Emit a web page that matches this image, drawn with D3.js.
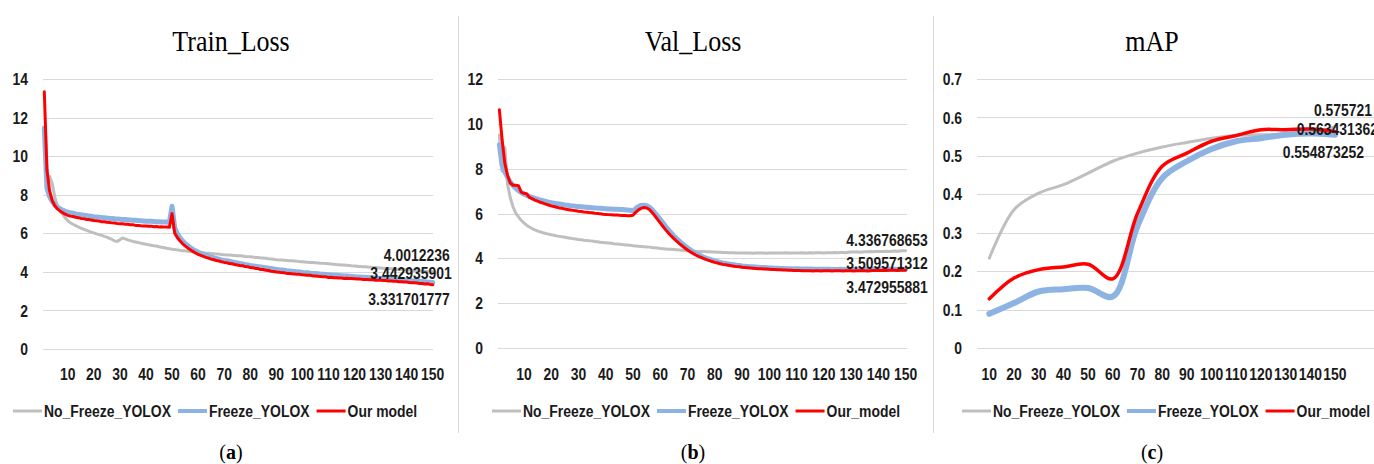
<!DOCTYPE html>
<html>
<head>
<meta charset="utf-8">
<script src="https://cdn.jsdelivr.net/npm/d3@7"></script>
<style>
  html, body { margin: 0; padding: 0; background: #fff; }
  svg { display: block; }
  .lbl { font-family: "Liberation Sans", Arial, sans-serif; font-weight: bold; font-size: 17px; fill: #1a1a1a; }
  .title { font-family: "Liberation Serif", serif; font-size: 26px; fill: #000; }
  .cap { font-family: "Liberation Serif", serif; font-size: 20px; fill: #000; }
</style>
</head>
<body>
<svg id="chart" width="1374" height="464"></svg>
<script>
// ---- data ----
const epochs = d3.range(1, 151);
const lossTicksX = [10, 20, 30, 40, 50, 60, 70, 80, 90, 100, 110, 120, 130, 140, 150];
const trainTicksY = [0, 2, 4, 6, 8, 10, 12, 14];
const valTicksY = [0, 2, 4, 6, 8, 10, 12];
const mapTicksY = [0, 0.1, 0.2, 0.3, 0.4, 0.5, 0.6, 0.7];
const seriesNames = ["No_Freeze_YOLOX", "Freeze_YOLOX", "Our_model"];
const seriesNamesA = ["No_Freeze_YOLOX", "Freeze_YOLOX", "Our model"];

const trainNoFreeze = [
  11.20, 8.40, 8.95, 8.60, 7.90, 7.45, 7.20, 7.00, 6.80, 6.65,
  6.55, 6.47, 6.40, 6.33, 6.27, 6.21, 6.16, 6.11, 6.06, 6.02,
  5.97, 5.93, 5.89, 5.84, 5.80, 5.74, 5.68, 5.60, 5.58, 5.66,
  5.76, 5.71, 5.66, 5.62, 5.58, 5.55, 5.52, 5.49, 5.46, 5.43,
  5.40, 5.38, 5.35, 5.34, 5.30, 5.28, 5.25, 5.22, 5.20, 5.17,
  5.16, 5.14, 5.12, 5.10, 5.09, 5.07, 5.05, 5.04, 5.02, 5.00,
  4.99, 4.99, 4.97, 4.96, 4.95, 4.94, 4.93, 4.92, 4.90, 4.89,
  4.88, 4.87, 4.86, 4.85, 4.84, 4.83, 4.82, 4.80, 4.79, 4.78,
  4.77, 4.75, 4.74, 4.72, 4.72, 4.70, 4.68, 4.67, 4.65, 4.63,
  4.62, 4.61, 4.60, 4.59, 4.58, 4.57, 4.56, 4.55, 4.53, 4.52,
  4.51, 4.50, 4.49, 4.48, 4.47, 4.46, 4.45, 4.44, 4.43, 4.42,
  4.41, 4.40, 4.38, 4.37, 4.36, 4.35, 4.34, 4.33, 4.31, 4.30,
  4.29, 4.28, 4.27, 4.26, 4.25, 4.24, 4.23, 4.22, 4.21, 4.20,
  4.19, 4.18, 4.17, 4.16, 4.15, 4.14, 4.13, 4.12, 4.11, 4.10,
  4.09, 4.08, 4.07, 4.06, 4.05, 4.04, 4.03, 4.02, 4.01, 4.0012
];
const trainFreeze = [
  11.46, 8.35, 7.92, 7.66, 7.48, 7.36, 7.27, 7.20, 7.14, 7.10,
  7.06, 7.04, 7.00, 6.98, 6.96, 6.94, 6.92, 6.90, 6.88, 6.86,
  6.85, 6.83, 6.82, 6.80, 6.79, 6.77, 6.77, 6.75, 6.74, 6.73,
  6.72, 6.71, 6.70, 6.69, 6.68, 6.67, 6.66, 6.65, 6.64, 6.63,
  6.62, 6.62, 6.61, 6.60, 6.60, 6.59, 6.58, 6.58, 6.56, 7.40,
  6.30, 5.98, 5.77, 5.61, 5.48, 5.36, 5.26, 5.17, 5.09, 5.02,
  4.96, 4.91, 4.86, 4.81, 4.77, 4.73, 4.69, 4.66, 4.62, 4.59,
  4.58, 4.55, 4.52, 4.49, 4.46, 4.43, 4.41, 4.38, 4.36, 4.33,
  4.31, 4.29, 4.27, 4.25, 4.23, 4.21, 4.19, 4.17, 4.15, 4.13,
  4.11, 4.10, 4.08, 4.06, 4.05, 4.03, 4.02, 4.00, 3.99, 3.97,
  3.96, 3.95, 3.93, 3.92, 3.91, 3.90, 3.88, 3.87, 3.86, 3.85,
  3.84, 3.83, 3.82, 3.81, 3.80, 3.79, 3.78, 3.77, 3.76, 3.75,
  3.74, 3.73, 3.72, 3.72, 3.71, 3.70, 3.69, 3.68, 3.67, 3.66,
  3.65, 3.64, 3.63, 3.62, 3.61, 3.60, 3.59, 3.58, 3.57, 3.56,
  3.55, 3.54, 3.53, 3.52, 3.51, 3.50, 3.49, 3.47, 3.46, 3.4429
];
const trainOurs = [
  13.34, 9.31, 8.22, 7.71, 7.43, 7.27, 7.16, 7.07, 6.99, 6.93,
  6.89, 6.87, 6.83, 6.81, 6.77, 6.76, 6.72, 6.71, 6.69, 6.66,
  6.65, 6.63, 6.60, 6.60, 6.57, 6.56, 6.54, 6.53, 6.51, 6.50,
  6.50, 6.47, 6.47, 6.44, 6.44, 6.41, 6.41, 6.39, 6.38, 6.38,
  6.36, 6.37, 6.34, 6.35, 6.33, 6.34, 6.32, 6.33, 6.31, 7.02,
  6.02, 5.78, 5.61, 5.47, 5.35, 5.24, 5.15, 5.06, 4.98, 4.91,
  4.85, 4.80, 4.75, 4.71, 4.66, 4.63, 4.59, 4.56, 4.52, 4.49,
  4.47, 4.43, 4.42, 4.38, 4.36, 4.33, 4.32, 4.28, 4.27, 4.22,
  4.21, 4.18, 4.17, 4.12, 4.12, 4.08, 4.07, 4.03, 4.02, 3.99,
  3.98, 3.96, 3.95, 3.92, 3.92, 3.90, 3.89, 3.87, 3.87, 3.85,
  3.84, 3.82, 3.82, 3.79, 3.79, 3.77, 3.76, 3.74, 3.74, 3.71,
  3.72, 3.70, 3.70, 3.68, 3.68, 3.66, 3.67, 3.65, 3.65, 3.64,
  3.63, 3.63, 3.61, 3.61, 3.60, 3.59, 3.59, 3.57, 3.57, 3.56,
  3.55, 3.55, 3.53, 3.53, 3.51, 3.51, 3.49, 3.49, 3.47, 3.47,
  3.45, 3.44, 3.43, 3.42, 3.40, 3.40, 3.37, 3.38, 3.35, 3.3317
];

const valNoFreeze = [
  9.50, 7.90, 8.95, 7.30, 6.70, 6.30, 6.02, 5.85, 5.70, 5.58,
  5.48, 5.40, 5.33, 5.27, 5.22, 5.18, 5.14, 5.11, 5.08, 5.05,
  5.03, 5.00, 4.98, 4.96, 4.94, 4.92, 4.90, 4.88, 4.86, 4.84,
  4.83, 4.81, 4.80, 4.78, 4.77, 4.75, 4.74, 4.72, 4.71, 4.69,
  4.68, 4.67, 4.65, 4.64, 4.63, 4.62, 4.60, 4.59, 4.58, 4.56,
  4.55, 4.54, 4.53, 4.52, 4.51, 4.50, 4.48, 4.47, 4.46, 4.44,
  4.43, 4.42, 4.41, 4.40, 4.39, 4.38, 4.37, 4.36, 4.35, 4.34,
  4.33, 4.32, 4.31, 4.31, 4.30, 4.30, 4.29, 4.29, 4.28, 4.28,
  4.27, 4.27, 4.26, 4.26, 4.25, 4.25, 4.25, 4.24, 4.24, 4.24,
  4.24, 4.24, 4.24, 4.23, 4.24, 4.24, 4.24, 4.24, 4.23, 4.24,
  4.24, 4.24, 4.24, 4.24, 4.24, 4.25, 4.24, 4.24, 4.24, 4.24,
  4.24, 4.25, 4.24, 4.24, 4.25, 4.24, 4.25, 4.25, 4.25, 4.24,
  4.25, 4.25, 4.25, 4.26, 4.25, 4.26, 4.26, 4.25, 4.27, 4.28,
  4.28, 4.29, 4.27, 4.28, 4.29, 4.29, 4.30, 4.29, 4.30, 4.31,
  4.30, 4.31, 4.32, 4.31, 4.32, 4.33, 4.32, 4.33, 4.34, 4.3368
];
const valFreeze = [
  9.07, 8.15, 7.85, 7.62, 7.40, 7.25, 7.12, 7.02, 6.94, 6.87,
  6.81, 6.76, 6.72, 6.68, 6.64, 6.60, 6.57, 6.54, 6.51, 6.48,
  6.46, 6.44, 6.42, 6.40, 6.38, 6.37, 6.35, 6.34, 6.32, 6.31,
  6.30, 6.29, 6.28, 6.27, 6.26, 6.25, 6.24, 6.23, 6.22, 6.21,
  6.20, 6.20, 6.19, 6.19, 6.18, 6.18, 6.17, 6.16, 6.15, 6.12,
  6.22, 6.31, 6.36, 6.37, 6.35, 6.28, 6.17, 6.03, 5.88, 5.73,
  5.58, 5.42, 5.27, 5.13, 5.00, 4.88, 4.77, 4.66, 4.56, 4.47,
  4.38, 4.30, 4.23, 4.16, 4.10, 4.05, 4.00, 3.96, 3.92, 3.88,
  3.85, 3.82, 3.79, 3.77, 3.75, 3.73, 3.71, 3.69, 3.68, 3.66,
  3.65, 3.64, 3.63, 3.62, 3.61, 3.60, 3.59, 3.59, 3.58, 3.57,
  3.57, 3.56, 3.56, 3.55, 3.55, 3.54, 3.54, 3.54, 3.53, 3.53,
  3.53, 3.52, 3.52, 3.52, 3.52, 3.51, 3.51, 3.51, 3.51, 3.51,
  3.51, 3.51, 3.50, 3.50, 3.50, 3.51, 3.50, 3.50, 3.50, 3.50,
  3.50, 3.50, 3.51, 3.50, 3.50, 3.50, 3.51, 3.51, 3.51, 3.51,
  3.51, 3.51, 3.51, 3.51, 3.51, 3.51, 3.51, 3.51, 3.51, 3.5096
];
const valOurs = [
  10.63, 9.30, 8.25, 7.70, 7.36, 7.26, 7.26, 7.24, 6.95, 6.90,
  6.88, 6.72, 6.66, 6.60, 6.55, 6.50, 6.46, 6.42, 6.38, 6.34,
  6.31, 6.28, 6.25, 6.23, 6.20, 6.18, 6.16, 6.14, 6.12, 6.10,
  6.09, 6.07, 6.06, 6.04, 6.03, 6.01, 6.00, 5.99, 5.97, 5.96,
  5.95, 5.94, 5.93, 5.93, 5.92, 5.91, 5.91, 5.90, 5.90, 5.92,
  6.05, 6.16, 6.23, 6.27, 6.25, 6.18, 6.05, 5.90, 5.74, 5.58,
  5.42, 5.27, 5.13, 5.00, 4.88, 4.77, 4.66, 4.56, 4.46, 4.37,
  4.29, 4.22, 4.15, 4.09, 4.04, 3.99, 3.94, 3.90, 3.86, 3.82,
  3.79, 3.76, 3.73, 3.71, 3.69, 3.67, 3.65, 3.63, 3.62, 3.60,
  3.59, 3.58, 3.57, 3.56, 3.55, 3.54, 3.53, 3.52, 3.52, 3.51,
  3.50, 3.50, 3.49, 3.49, 3.48, 3.48, 3.47, 3.47, 3.46, 3.46,
  3.46, 3.45, 3.45, 3.45, 3.45, 3.44, 3.45, 3.45, 3.44, 3.45,
  3.45, 3.45, 3.44, 3.45, 3.45, 3.45, 3.44, 3.45, 3.45, 3.45,
  3.44, 3.45, 3.45, 3.46, 3.45, 3.44, 3.45, 3.46, 3.46, 3.46,
  3.46, 3.47, 3.46, 3.47, 3.47, 3.47, 3.46, 3.47, 3.47, 3.473
];

const mapEpochs = [10, 20, 30, 40, 50, 60, 70, 80, 90, 100, 110, 120, 130, 140, 150];
const mapNoFreeze = [0.234, 0.360, 0.403, 0.425, 0.455, 0.486, 0.507, 0.523, 0.535, 0.546, 0.553, 0.555, 0.555, 0.558, 0.5757];
const mapFreeze   = [0.089, 0.117, 0.147, 0.153, 0.156, 0.134, 0.317, 0.442, 0.486, 0.518, 0.538, 0.546, 0.555, 0.558, 0.5549];
const mapOurs     = [0.128, 0.182, 0.204, 0.211, 0.218, 0.180, 0.350, 0.473, 0.507, 0.538, 0.553, 0.568, 0.568, 0.570, 0.5634];

const trainEndLabels = ["4.0012236", "3.442935901", "3.331701777"];
const valEndLabels = ["4.336768653", "3.509571312", "3.472955881"];
const mapEndLabels = ["0.575721", "0.554873252", "0.563431362"];

// ---- styles ----
const colors = ["#bfbfbf", "#8db3e2", "#ff0000"];
const SX = 0.82; // the chart text is a tall, narrow bold face

const svg = d3.select("#chart");
const at = (x, y) => `translate(${x},${y}) scale(${SX},1)`;

function drawPanel(p) {
  const g = svg.append("g");
  const x = d3.scalePoint().domain(p.cats).range([p.left, p.right]).padding(0.5);
  const y = d3.scaleLinear().domain([p.yTicks[0], p.yTicks[p.yTicks.length - 1]]).range([p.bottom, p.top]);

  g.selectAll("line.grid").data(p.yTicks).join("line")
    .attr("x1", p.left).attr("x2", p.gridRight)
    .attr("y1", d => Math.round(y(d)) + 0.5).attr("y2", d => Math.round(y(d)) + 0.5)
    .attr("stroke", "#d9d9d9").attr("stroke-width", 1);

  g.selectAll("text.yl").data(p.yTicks).join("text")
    .attr("class", "lbl").attr("text-anchor", "end")
    .attr("transform", d => at(p.yLabelX, y(d))).attr("dy", "0.36em")
    .text(p.yFmt);

  g.selectAll("text.xl").data(p.xTicks).join("text")
    .attr("class", "lbl").attr("text-anchor", "middle")
    .attr("transform", d => at(x(d), p.xLabelY))
    .text(d => d);

  const line = d3.line()
    .x((d, i) => x(p.cats[i]))
    .y(d => y(d))
    .curve(p.curve);

  p.series.forEach((s, k) => {
    g.append("path")
      .attr("d", line(s))
      .attr("fill", "none")
      .attr("stroke", colors[k])
      .attr("stroke-width", p.widths[k])
      .attr("stroke-linejoin", "round")
      .attr("stroke-linecap", "round");
  });

  // end-point data labels
  p.endLabels.forEach((t, k) => {
    const s = p.series[k];
    g.append("text").attr("class", "lbl").attr("text-anchor", "end")
      .attr("transform", at(x(p.cats[s.length - 1]) + p.labelDx[k], y(s[s.length - 1]) + p.labelDy[k]))
      .text(t);
  });

  g.append("text").attr("class", "title").attr("text-anchor", "middle")
    .attr("transform", `translate(${p.titleX},51) scale(1,1.12)`).text(p.title);

  // legend
  let lx = p.legendX;
  const ly = 411;
  p.names.forEach((n, k) => {
    g.append("line").attr("x1", lx).attr("x2", lx + 29).attr("y1", ly).attr("y2", ly)
      .attr("stroke", colors[k]).attr("stroke-width", k === 1 ? 4 : 3);
    const t = g.append("text").attr("class", "lbl")
      .attr("transform", at(lx + 31, ly)).attr("dy", "0.36em").text(n);
    lx += 31 + t.node().getComputedTextLength() * SX + 7;
  });

  const cap = g.append("text").attr("class", "cap").attr("text-anchor", "middle")
    .attr("x", p.titleX).attr("y", 459);
  cap.append("tspan").text("(");
  cap.append("tspan").attr("font-weight", "bold").text(p.letter);
  cap.append("tspan").text(")");
}

drawPanel({
  title: "Train_Loss", letter: "a", titleX: 231,
  cats: epochs, left: 43, right: 434, gridRight: 433, top: 79, bottom: 349,
  yTicks: trainTicksY, yFmt: d => d, yLabelX: 28, xTicks: lossTicksX, xLabelY: 380,
  series: [trainNoFreeze, trainFreeze, trainOurs], widths: [3, 5, 3], curve: d3.curveLinear,
  endLabels: trainEndLabels, labelDx: [17, 19, 17], labelDy: [-11, -4, 20],
  names: seriesNamesA, legendX: 13
});

drawPanel({
  title: "Val_Loss", letter: "b", titleX: 693,
  cats: epochs, left: 498, right: 907, gridRight: 907, top: 79, bottom: 348,
  yTicks: valTicksY, yFmt: d => d, yLabelX: 483, xTicks: lossTicksX, xLabelY: 380,
  series: [valNoFreeze, valFreeze, valOurs], widths: [3, 5, 3], curve: d3.curveLinear,
  endLabels: valEndLabels, labelDx: [22, 22, 22], labelDy: [-5, 0, 23],
  names: seriesNames, legendX: 492
});

drawPanel({
  title: "mAP", letter: "c", titleX: 1152,
  cats: mapEpochs.concat(["pad"]), left: 977, right: 1372, gridRight: 1374, top: 79, bottom: 348,
  yTicks: mapTicksY, yFmt: d => d === 0 ? "0" : d3.format(".1f")(d), yLabelX: 962, xTicks: mapEpochs, xLabelY: 380,
  series: [mapNoFreeze, mapFreeze, mapOurs], widths: [3, 6, 3.5], curve: d3.curveCatmullRom,
  endLabels: mapEndLabels, labelDx: [37, 29, 43], labelDy: [-11, 23, 4],
  names: seriesNames, legendX: 962
});

// panel separators
svg.selectAll("line.sep").data([458, 933]).join("line")
  .attr("x1", d => d + 0.5).attr("x2", d => d + 0.5).attr("y1", 16).attr("y2", 433)
  .attr("stroke", "#d9d9d9").attr("stroke-width", 1);
</script>
</body>
</html>
